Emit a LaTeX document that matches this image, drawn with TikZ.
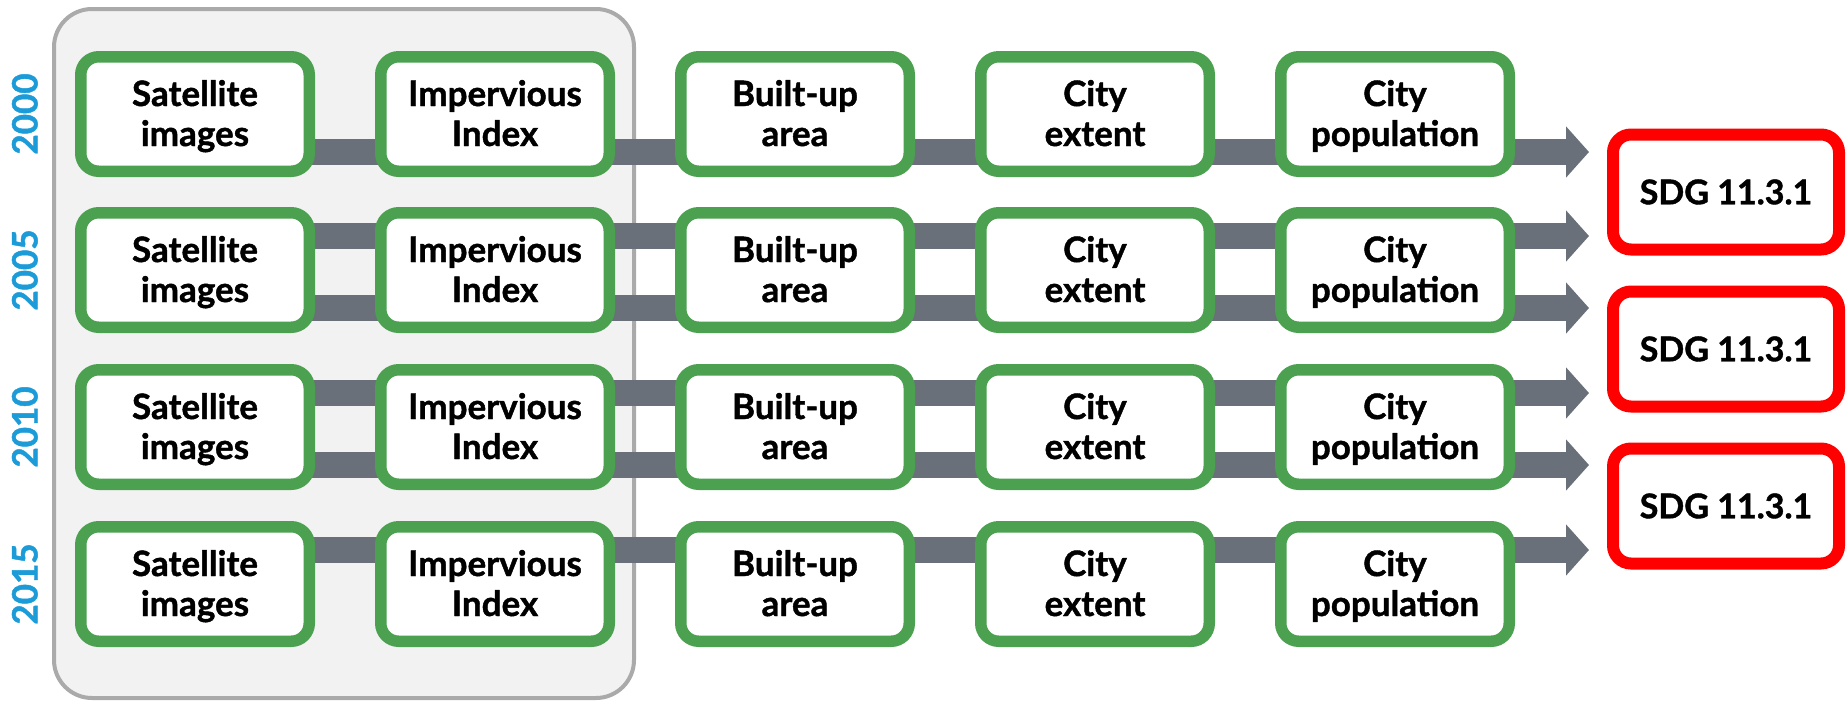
\documentclass[tikz,border=0pt]{standalone}
\usepackage{fontspec}
\newfontfamily\lato[BoldFeatures={FakeBold=1.2}]{Lato}
\usetikzlibrary{arrows.meta,backgrounds}

\definecolor{boxgreen}{HTML}{4BA150}
\definecolor{sdgred}{HTML}{FF0000}
\definecolor{flowgray}{HTML}{6A7079}
\definecolor{panelfill}{HTML}{F2F2F2}
\definecolor{panelborder}{HTML}{AAAAAA}
\definecolor{yearblue}{HTML}{1B9BD7}

% two-line label with fixed first-line height and last-line depth
\newcommand{\twolines}[2]{\rule{0pt}{32pt}#1\\#2\rule[-8pt]{0pt}{8pt}}

\tikzset{
  labelfont/.style={font=\lato\bfseries\fontsize{35}{40}\selectfont},
  stage/.style={labelfont, draw=boxgreen, line width=11.5pt, fill=white,
    rounded corners=18pt, minimum width=228.5pt, minimum height=114.5pt,
    inner sep=0pt, align=center},
  goal/.style={font=\lato\bfseries\fontsize{34}{40}\selectfont, draw=sdgred,
    line width=12pt, fill=white, rounded corners=18pt, minimum width=226pt,
    minimum height=115pt, inner sep=0pt, text height=24.5pt, text depth=0pt},
  year/.style={labelfont, text=yearblue, rotate=90, inner sep=0pt,
    text height=25pt, text depth=0pt},
  flow/.style={draw=flowgray, line width=26pt,
    -{Triangle[length=23pt, width=50pt]}},
  panel/.style={draw=panelborder, line width=4pt, fill=panelfill,
    rounded corners=38pt}
}

\begin{document}
\begin{tikzpicture}[x=1pt, y=-1pt]
\useasboundingbox (0,0) rectangle (1847,702);

% one row of processing stages per year
\foreach \r/\yy/\yr in {1/114/2000, 2/270/2005, 3/427/2010, 4/584/2015} {
  \node[year]  (y\r) at (25,\yy)   {\yr};
  \node[stage] (s\r) at (195,\yy)  {\twolines{Satellite}{images}};
  \node[stage] (i\r) at (495,\yy)  {\twolines{Impervious}{Index}};
  \node[stage] (b\r) at (795,\yy)  {\twolines{Built-up}{area}};
  \node[stage] (c\r) at (1095,\yy) {\twolines{City}{extent}};
  \node[stage] (p\r) at (1395,\yy) {\twolines{City}{population}};
}

% indicator computed from each pair of consecutive years
\node[goal] (g1) at (1726,192) {SDG 11.3.1};
\node[goal] (g2) at (1726,349) {SDG 11.3.1};
\node[goal] (g3) at (1726,506) {SDG 11.3.1};

% arrow tips in front of the indicator boxes
\coordinate (t1) at (1589,152);
\coordinate (t2) at (1589,236);
\coordinate (t3) at (1589,308);
\coordinate (t4) at (1589,393);
\coordinate (t5) at (1589,465);
\coordinate (t6) at (1589,550);

\begin{scope}[on background layer]
  \draw[panel] (54,9) rectangle (634,698);
  \draw[flow] (s1.center |- t1) -- (t1);
  \draw[flow] (s2.center |- t2) -- (t2);
  \draw[flow] (s2.center |- t3) -- (t3);
  \draw[flow] (s3.center |- t4) -- (t4);
  \draw[flow] (s3.center |- t5) -- (t5);
  \draw[flow] (s4.center |- t6) -- (t6);
\end{scope}
\end{tikzpicture}
\end{document}
